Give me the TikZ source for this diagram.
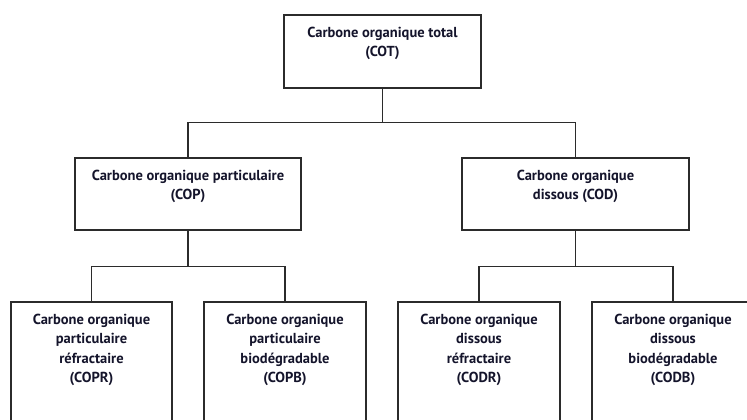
\documentclass[tikz,border=0pt]{standalone}
\usepackage{fontspec}
\setmainfont{PT Sans}
\usetikzlibrary{positioning}
\definecolor{cLine}{HTML}{2B2B2B}
\definecolor{cText}{HTML}{14142B}
\tikzset{
  box/.style={draw=cLine, line width=1.6pt, anchor=north, inner sep=0pt, minimum width=#1},
  boxtext/.style={anchor=north, yshift=-12.5pt, align=center, inner sep=0pt, text=cText,
    font=\fontsize{14.5}{19.5}\selectfont\bfseries},
  link/.style={draw=cLine, line width=1.6pt}
}
\begin{document}
\begin{tikzpicture}[x=1pt, y=-1pt]
  \useasboundingbox (0,0) rectangle (747,420);
  \clip (0,0) rectangle (747,420);
  % total
  \node[box=197pt, minimum height=73pt, label={[boxtext]north:{Carbone organique total\\(COT)}}] (cot) at (382.5,14) {};
  % particulaire / dissous
  \node[box=226pt, minimum height=72pt, label={[boxtext]north:{Carbone organique particulaire\\(COP)}}] (cop) at (188,157) {};
  \node[box=227pt, minimum height=72pt, label={[boxtext]north:{Carbone organique\\dissous (COD)}}] (cod) at (575.5,157) {};
  % fractions
  \node[box=161pt, minimum height=140pt, label={[boxtext]north:{Carbone organique\\particulaire\\réfractaire\\(COPR)}}] (copr) at (91.5,301) {};
  \node[box=162pt, minimum height=140pt, label={[boxtext]north:{Carbone organique\\particulaire\\biodégradable\\(COPB)}}] (copb) at (285,301) {};
  \node[box=162pt, minimum height=140pt, label={[boxtext]north:{Carbone organique\\dissous\\réfractaire\\(CODR)}}] (codr) at (479,301) {};
  \node[box=162pt, minimum height=140pt, label={[boxtext]north:{Carbone organique\\dissous\\biodégradable\\(CODB)}}] (codb) at (673,301) {};

  \draw[link] (cot.south) -- ++(0,34) -| (cop.north);
  \draw[link] (cot.south) ++(0,34) -| (cod.north);
  \draw[link] (cop.south) -- ++(0,36) -| (copr.north);
  \draw[link] (cop.south) ++(0,36) -| (copb.north);
  \draw[link] (cod.south) -- ++(0,36) -| (codr.north);
  \draw[link] (cod.south) ++(0,36) -| (codb.north);
\end{tikzpicture}
\end{document}
